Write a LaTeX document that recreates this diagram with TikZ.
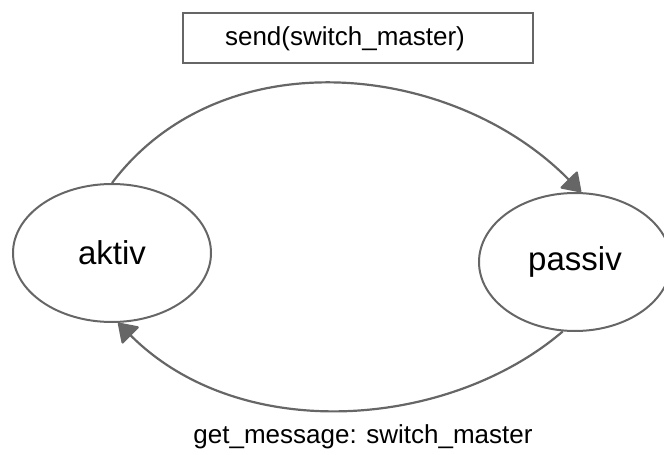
\documentclass[tikz,border=0pt]{standalone}
\usepackage{fontspec}
\setmainfont{Liberation Sans}
\usetikzlibrary{positioning,shapes.geometric,arrows.meta}
\definecolor{linegray}{HTML}{666666}
\tikzset{
  state/.style={draw=linegray, line width=2pt, ellipse, inner sep=0pt, font=\fontsize{33}{40}\selectfont},
  arr/.style={draw=linegray, line width=2.2pt, -{Triangle[length=19pt,width=25pt,round]}},
  lbl/.style={font=\fontsize{26}{31}\selectfont}
}
\begin{document}
\begin{tikzpicture}[x=1pt,y=-1pt]
  \useasboundingbox (0,0) rectangle (664,455);
  \node[state, minimum width=198pt, minimum height=138pt] (aktiv) at (112,253) {aktiv};
  \node[state, minimum width=192pt, minimum height=138pt] (passiv) at (575,262) {passiv};
  \node[draw=linegray, line width=1.6pt, minimum width=350pt, minimum height=50pt] (sendbox) at (358,38) {};
  \node[lbl] (sendlabel) at (345,39) {send(switch\_master)};
  \node[lbl] (getlabel) at (363,437) {get\_message: switch\_master};
  \draw[arr] (aktiv.north) .. controls +(110,-146) and +(-128,-130) .. (passiv.85);
  \draw[arr] (passiv.260) .. controls +(-114,97.5) and +(122.5,122.5) .. (aktiv.-85);
\end{tikzpicture}
\end{document}
